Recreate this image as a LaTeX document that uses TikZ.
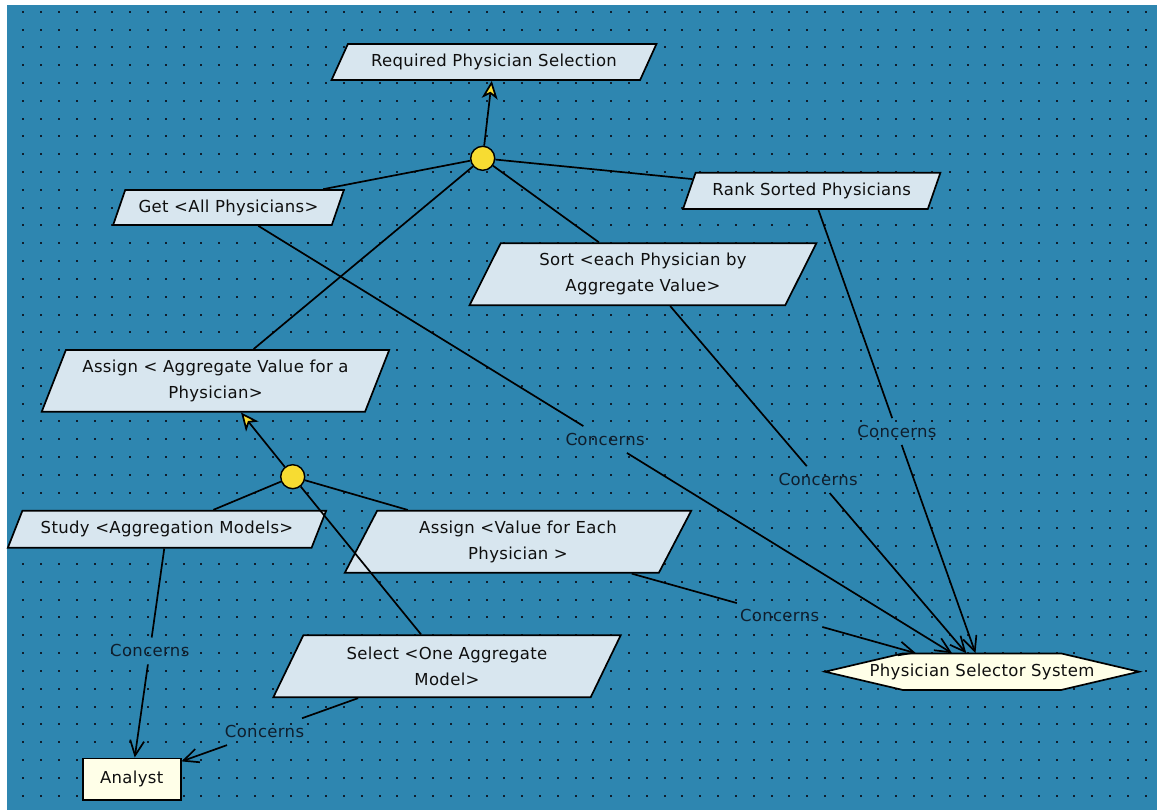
\documentclass[tikz,border=0pt]{standalone}
\usepackage{fontspec}
\setmainfont{DejaVu Sans}[LetterSpace=2]
\usetikzlibrary{shapes.geometric,arrows.meta,calc}
\definecolor{bgblue}{RGB}{46,134,176}
\definecolor{dotc}{RGB}{15,30,45}
\definecolor{goalfill}{RGB}{216,230,239}
\definecolor{cream}{RGB}{255,255,232}
\definecolor{circyellow}{RGB}{247,220,50}
\definecolor{txt}{RGB}{15,15,15}
\newcommand{\gfont}{\fontsize{16.5pt}{26pt}\selectfont}
\tikzset{
  goal/.style={trapezium, trapezium stretches=true, draw=black, line width=1.7pt,
    fill=goalfill, text=txt, align=center, inner sep=0pt, font=\gfont},
  tallgoal/.style={goal, trapezium left angle=61.6, trapezium right angle=118.4,
    minimum width=347.4, minimum height=62},
  andnode/.style={circle, draw=black, line width=1.4pt, fill=circyellow,
    minimum size=24, inner sep=0pt},
  link/.style={draw=black, line width=1.7pt},
  goalarrow/.style={link, -{Stealth[length=18pt,width=16pt,inset=5pt,fill=circyellow]}},
  concarrow/.style={link, -{Straight Barb[length=15pt,width=14pt]}},
  lbl/.style={font=\gfont, text=dotc, inner xsep=3pt, inner ysep=7pt},
  actor/.style={draw=black, line width=1.7pt, fill=cream, text=txt, font=\gfont,
    minimum width=98, minimum height=41.7, inner sep=0pt},
}
\begin{document}
\begin{tikzpicture}[x=1pt,y=-1pt]
\useasboundingbox (0,0) rectangle (1157,810);
\fill[white] (0,0) rectangle (1157,810);
\fill[bgblue] (7,5) rectangle (1157,810);
\foreach \i in {0,...,63}{\foreach \j in {0,...,44}{
  \fill[dotc] ({22.3+17.816*\i},{10.7+17.816*\j}) rectangle ++(2,2);}}

% goals
\node[goal, trapezium left angle=49.3, trapezium right angle=130.7,
  minimum width=326, minimum height=36] (req) at (494,62) {Required Physician Selection};
\node[goal, trapezium left angle=56.7, trapezium right angle=123.3,
  minimum width=231, minimum height=35] (get) at (228.5,207.5) {Get <All Physicians>};
\node[goal, trapezium left angle=56, trapezium right angle=124,
  minimum width=258, minimum height=36.3] (rank) at (811.7,190.9) {Rank Sorted Physicians};
\node[tallgoal] (sort) at (643,274.2) {Sort <each Physician by\\Aggregate Value>};
\node[goal, trapezium left angle=62.9, trapezium right angle=117.1,
  minimum width=347.6, minimum height=61.7] (aggr) at (215.5,380.8) {Assign < Aggregate Value for a\\Physician>};
\node[goal, trapezium left angle=51.5, trapezium right angle=128.5,
  minimum width=319.4, minimum height=37] (study) at (167,529.2) {Study <Aggregation Models>};
\node[tallgoal] (value) at (518,541.8) {Assign <Value for Each\\Physician >};
\node[tallgoal] (select) at (447,666.3) {Select <One Aggregate\\Model>};

% and-nodes
\node[andnode] (c1) at (482.7,158.3) {};
\node[andnode] (c2) at (292.7,476.7) {};

% system (hexagon) and actor
\coordinate (pssc) at (982,671.7);
\draw[fill=cream, line width=1.7pt] ($(pssc)+(-157,0)$) -- ($(pssc)+(-79,-18.3)$)
  -- ($(pssc)+(79,-18.3)$) -- ($(pssc)+(157,0)$) -- ($(pssc)+(79,18.3)$)
  -- ($(pssc)+(-79,18.3)$) -- cycle;
\node[font=\gfont, text=txt, minimum height=36.6, inner sep=0pt] (pss) at (pssc) {Physician Selector System};
\node[actor] (analyst) at (131.7,779.2) {Analyst};

% refinement links
\draw[goalarrow] (c1) -- (req);
\draw[link] (c1) -- (get);
\draw[link] (c1) -- (rank);
\draw[link] (c1) -- (aggr);
\draw[link] (c1) -- (sort);
\draw[goalarrow] (c2) -- (aggr);
\draw[link] (c2) -- (study);
\draw[link] (c2) -- (value);
\draw[link] (c2) -- (select);

% concerns links
\path (get) -- node[lbl, pos=0.5] (l1) {Concerns} (pss);
\draw[link] (get) -- (l1); \draw[concarrow] (l1) -- (pss);
\path (rank) -- node[lbl, pos=0.5] (l2) {Concerns} (pss);
\draw[link] (rank) -- (l2); \draw[concarrow] (l2) -- (pss);
\path (sort) -- node[lbl, pos=0.5] (l3) {Concerns} (pss);
\draw[link] (sort) -- (l3); \draw[concarrow] (l3) -- (pss);
\path (value) -- node[lbl, pos=0.52] (l4) {Concerns} (pss);
\draw[link] (value) -- (l4); \draw[concarrow] (l4) -- (pss);
\path (study) -- node[lbl, pos=0.49] (l5) {Concerns} (analyst);
\draw[link] (study) -- (l5); \draw[concarrow] (l5) -- (analyst);
\path (select) -- node[lbl, pos=0.53] (l6) {Concerns} (analyst);
\draw[link] (select) -- (l6); \draw[concarrow] (l6) -- (analyst);
\end{tikzpicture}
\end{document}
